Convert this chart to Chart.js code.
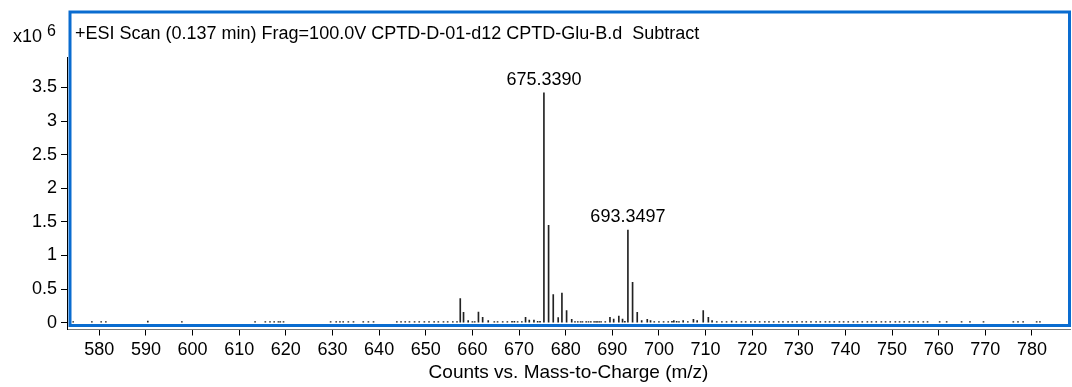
<!DOCTYPE html>
<html>
<head>
<meta charset="utf-8">
<script src="https://cdn.jsdelivr.net/npm/chart.js@4/dist/chart.umd.min.js"></script>
<style>
  html, body { margin:0; padding:0; background:#fff; }
  #wrap { position:relative; width:1072px; height:387px; }
</style>
</head>
<body>
<div id="wrap"><canvas id="spec"></canvas></div>
<script>
const FONT = "'Liberation Sans', Arial, sans-serif";

// m/z of each stick and its intensity (x10^6 counts)
const peakMz = [
  574.4, 578.4, 580.4, 581.4, 590.4, 597.7, 613.4, 615.6, 616.6, 617.5, 618.4, 618.8, 619.5,
  629.6, 630.8, 631.6, 632.3, 633.4, 634.5, 636.6, 637.7, 638.8,
  643.8, 644.7, 645.6, 646.5, 647.6, 648.6, 649.7, 650.7, 651.8, 652.7, 653.8, 654.7, 655.8, 656.7,
  657.4, 658.1, 659.1, 660.0, 660.5, 661.3, 662.2, 663.4,
  664.7, 665.4, 666.5, 667.5, 668.5, 669.0, 669.7, 670.6,
  671.4, 672.2, 673.2, 674.0, 674.5,
  675.339, 676.34, 677.34, 678.4, 679.2, 680.2, 681.3,
  682.0, 682.6, 683.2, 683.6, 684.4, 684.9, 685.4, 686.1, 686.5, 686.8, 687.2, 687.6, 688.5,
  689.5, 690.3, 691.4, 692.2, 692.7, 693.3497, 694.35, 695.35, 696.3, 697.5, 698.2,
  699.0, 700.0, 701.0, 702.0, 702.8, 703.2, 703.8, 704.3, 705.2, 706.2, 707.4, 708.2,
  709.5, 710.6, 711.4, 712.4, 713.5, 714.5, 715.6,
  716.6, 717.7, 718.6, 719.7, 720.6, 721.6, 722.7, 723.6, 724.6, 725.7, 726.6, 727.7, 728.6,
  729.6, 730.7, 731.6, 732.6, 733.7, 734.6, 735.7, 736.6, 737.6, 738.7, 739.6, 740.6, 741.7,
  742.6, 743.6, 744.7, 745.6, 746.6, 747.7, 748.6, 749.6, 750.7, 751.6, 752.6, 753.7, 754.6,
  755.6, 756.7, 757.6, 760.2, 761.7, 764.9, 766.7, 769.6, 776.0, 777.0, 778.1, 781.0, 781.7, 782.8
];
const peakInt = [
  0.015, 0.015, 0.015, 0.015, 0.025, 0.015, 0.015, 0.015, 0.015, 0.015, 0.015, 0.015, 0.015,
  0.015, 0.015, 0.015, 0.015, 0.015, 0.015, 0.015, 0.015, 0.015,
  0.015, 0.015, 0.015, 0.015, 0.015, 0.015, 0.015, 0.015, 0.015, 0.015, 0.015, 0.015, 0.015, 0.015,
  0.36, 0.155, 0.03, 0.015, 0.015, 0.16, 0.08, 0.03,
  0.015, 0.015, 0.015, 0.015, 0.02, 0.02, 0.015, 0.015,
  0.08, 0.04, 0.04, 0.02, 0.02,
  3.42, 1.45, 0.42, 0.075, 0.44, 0.18, 0.05,
  0.015, 0.015, 0.015, 0.015, 0.015, 0.015, 0.015, 0.015, 0.015, 0.015, 0.015, 0.015, 0.015,
  0.08, 0.055, 0.10, 0.055, 0.02, 1.38, 0.60, 0.155, 0.03, 0.05, 0.03,
  0.015, 0.015, 0.015, 0.015, 0.02, 0.03, 0.02, 0.015, 0.03, 0.015, 0.05, 0.03,
  0.18, 0.08, 0.03, 0.015, 0.015, 0.015, 0.025,
  0.015, 0.015, 0.015, 0.015, 0.015, 0.015, 0.015, 0.015, 0.015, 0.015, 0.015, 0.015, 0.015,
  0.015, 0.015, 0.015, 0.015, 0.015, 0.015, 0.015, 0.015, 0.015, 0.015, 0.015, 0.015, 0.015,
  0.015, 0.015, 0.015, 0.015, 0.015, 0.015, 0.015, 0.015, 0.015, 0.015, 0.015, 0.015, 0.015,
  0.015, 0.015, 0.015, 0.015, 0.015, 0.015, 0.015, 0.015, 0.015, 0.015, 0.015, 0.015, 0.015
];
// labelled peaks
const labelMz = [675.3390, 693.3497];
const labelInt = [3.42, 1.38];

const xTicks = [580, 590, 600, 610, 620, 630, 640, 650, 660, 670, 680, 690, 700, 710, 720, 730, 740, 750, 760, 770, 780];
const yTicks = [0, 0.5, 1, 1.5, 2, 2.5, 3, 3.5];

const titleText = '+ESI Scan (0.137 min) Frag=100.0V CPTD-D-01-d12 CPTD-Glu-B.d  Subtract';
const xTitle = 'Counts vs. Mass-to-Charge (m/z)';

// frame, header and peak labels
const decor = {
  id: 'decor',
  afterDatasetsDraw(chart){
    const {ctx, scales:{x, y}} = chart;
    ctx.save();
    ctx.fillStyle = '#000';
    ctx.font = '18px ' + FONT;
    ctx.textAlign = 'center';
    ctx.textBaseline = 'bottom';
    labelMz.forEach((m, i) => {
      ctx.fillText(m.toFixed(4), x.getPixelForValue(m), y.getPixelForValue(labelInt[i]) - 4);
    });
    ctx.restore();
  },
  afterDraw(chart){
    const {ctx} = chart;
    ctx.save();
    ctx.strokeStyle = '#0a6cd0';
    ctx.lineWidth = 3;
    ctx.strokeRect(70, 12, 999.5, 313.5);
    ctx.fillStyle = '#000';
    ctx.textBaseline = 'alphabetic';
    ctx.textAlign = 'left';
    ctx.font = '18px ' + FONT;
    ctx.fillText(titleText, 75, 39);
    ctx.fillText('x10', 13, 42);
    ctx.font = '16px ' + FONT;
    ctx.fillText('6', 47, 36);
    ctx.restore();
  }
};

new Chart(document.getElementById('spec'), {
  type: 'bar',
  data: {
    datasets: [{
      data: peakMz.map((m, i) => ({x: m, y: peakInt[i]})),
      backgroundColor: '#222',
      borderWidth: 0,
      barThickness: 1
    }]
  },
  options: {
    responsive: true,
    maintainAspectRatio: false,
    animation: false,
    layout: { padding: { top: 57, right: 2, left: 0, bottom: 0 } },
    plugins: { legend: { display: false }, tooltip: { enabled: false } },
    scales: {
      x: {
        type: 'linear',
        offset: false,
        min: 573.07,
        max: 788.15,
        afterBuildTicks: s => { s.ticks = xTicks.map(v => ({value: v})); },
        afterFit: s => { s.height = 57.5; },
        border: { display: true, color: '#777', width: 1 },
        grid: { offset: false, drawOnChartArea: false, drawTicks: true, tickLength: 6, color: '#000' },
        ticks: { color: '#000', font: { family: FONT, size: 18 }, padding: 4, maxRotation: 0, autoSkip: false },
        title: { display: true, text: xTitle, color: '#000', font: { family: FONT, size: 19 }, padding: { top: 2, bottom: 3 } }
      },
      y: {
        min: -0.101,
        max: 3.954,
        afterBuildTicks: s => { s.ticks = yTicks.map(v => ({value: v})); },
        afterFit: s => { s.width = 67; },
        border: { display: true, color: '#000', width: 1 },
        grid: { drawOnChartArea: false, drawTicks: true, tickLength: 6, color: '#000' },
        ticks: { color: '#000', font: { family: FONT, size: 18 }, padding: 4, callback: v => String(v) }
      }
    }
  },
  plugins: [decor]
});
</script>
</body>
</html>
